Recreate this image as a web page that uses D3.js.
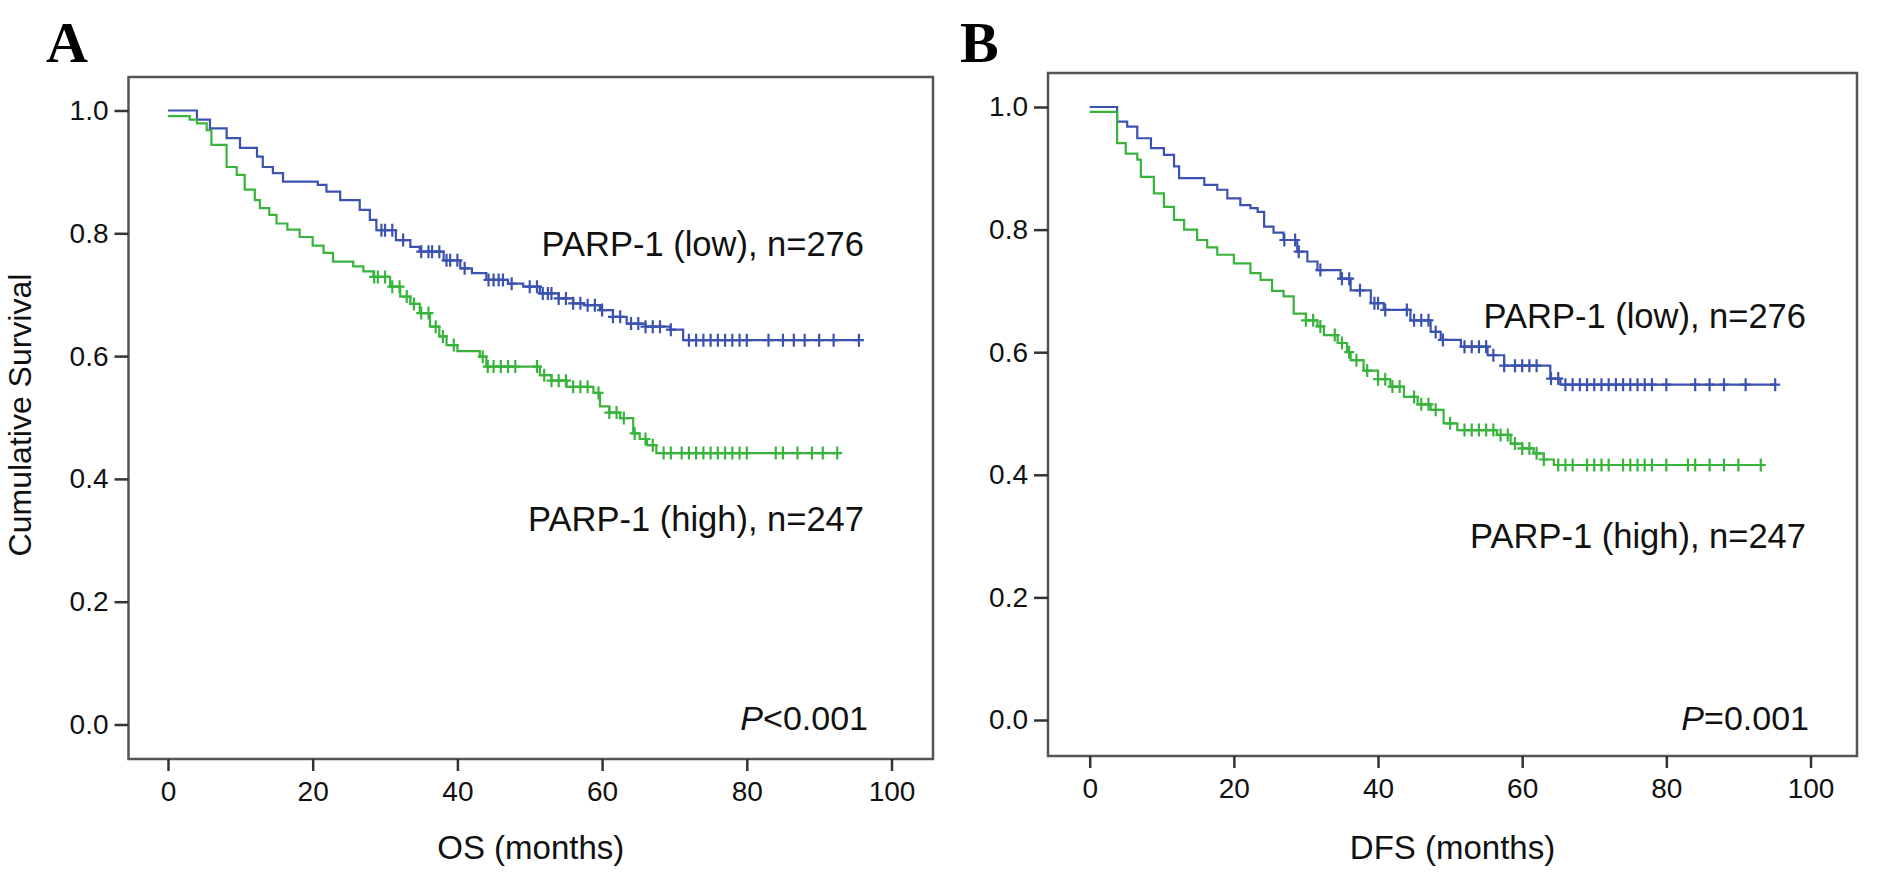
<!DOCTYPE html>
<html>
<head>
<meta charset="utf-8">
<script src="https://cdn.jsdelivr.net/npm/d3@7.9.0/dist/d3.min.js"></script>
<style>
  body { margin: 0; background: #fff; }
  svg { display: block; font-family: "Liberation Sans", Arial, sans-serif; }
</style>
</head>
<body>
<svg id="chart" width="1879" height="874"></svg>
<script>
// step points: [month, survival from that month on]
const osLowSteps = [[0,1.0],[4.0,0.985],[5.8,0.971],[8.1,0.955],[9.95,0.939],[12.3,0.925],[13.1,0.908],[14.5,0.898],[15.9,0.884],[20.7,0.879],[21.9,0.868],[23.8,0.854],[26.5,0.838],[27.9,0.822],[28.8,0.805],[31.5,0.789],[33.5,0.778],[34.8,0.770],[38.1,0.756],[40.4,0.743],[42,0.735],[44.0,0.724],[47,0.718],[49.1,0.713],[51.4,0.702],[54,0.694],[56,0.686],[57.5,0.683],[59.7,0.675],[61.5,0.664],[63.4,0.653],[66,0.648],[69.4,0.643],[71.2,0.626]];
const osLowEnd = 95.5;
const osLowCensor = [29.5,30,31,32.5,35,36,36.5,37.5,38.5,39,40,41,44.3,45,45.7,46.3,47.5,50,51,51.8,52.5,53,54,55,56,57,58,59,60,61.5,62.5,64,65,66,67,68,69.5,72,73,74,75,76,77,78,79,80,83,85,86.5,88,90,92,95.5];

const osHighSteps = [[0,0.991],[3,0.985],[4,0.979],[5.35,0.968],[6,0.944],[8.1,0.908],[9.5,0.895],[10.6,0.871],[12,0.854],[12.7,0.841],[14,0.830],[15,0.816],[16.5,0.806],[18.2,0.794],[20,0.780],[21.5,0.768],[22.8,0.754],[25.6,0.746],[27,0.738],[28.4,0.729],[30.7,0.713],[32.1,0.697],[33.5,0.685],[34.8,0.670],[36.2,0.648],[37.5,0.632],[38.5,0.618],[40,0.608],[43.1,0.599],[44,0.583],[51.4,0.569],[53,0.560],[55.1,0.550],[58.8,0.540],[59.7,0.518],[61,0.508],[62.5,0.499],[64.3,0.474],[65.2,0.465],[66.2,0.455],[67.5,0.442]];
const osHighEnd = 92.5;
const osHighCensor = [28.5,29,30,31,32,33,34,35,36,37,38,39.5,43.5,44.2,45,46,47,48,51,52,53,54,55,56,57,58,59.5,61,62,63,64.5,66,67,68.5,69.5,71,72,73,74,75,76,77,78,79,80,84,85,87,89,90.5,92.5];

const dfsLowSteps = [[0,1.0],[3.8,0.976],[5.2,0.968],[6.6,0.949],[8.5,0.933],[10.3,0.922],[11.7,0.903],[12.4,0.884],[15.9,0.873],[17.7,0.865],[19.1,0.851],[20.9,0.840],[22.3,0.835],[23.3,0.829],[24.2,0.805],[25.5,0.795],[26.9,0.783],[28.8,0.764],[30.2,0.748],[31.6,0.734],[34.8,0.720],[36.2,0.701],[39,0.680],[40.8,0.669],[44.5,0.652],[47.3,0.633],[48.7,0.620],[51.5,0.609],[55.2,0.595],[57.5,0.578],[63.9,0.557],[65.3,0.547]];
const dfsLowEnd = 95.1;
const dfsLowCensor = [27,28.5,29,32,35,36,37.5,39.5,40,41,44,45,46,47,48,49,52,53,54,55,56,57.5,59,60,61,62,64,65,66,67,68,69,70,71,72,73,74,75,76,77,78,80,84,86,88,91,95.1];

const dfsHighSteps = [[0,0.992],[3.8,0.941],[5,0.924],[6.6,0.914],[7.1,0.886],[8.9,0.859],[10.3,0.837],[11.7,0.816],[13.1,0.800],[14.9,0.783],[16.3,0.771],[17.7,0.759],[20,0.745],[22.3,0.729],[23.7,0.718],[25.3,0.700],[26.9,0.691],[28.3,0.663],[30,0.652],[31.6,0.642],[32.5,0.628],[34.4,0.615],[35.7,0.600],[36.2,0.587],[38,0.570],[40,0.556],[41.7,0.544],[43.6,0.527],[45.5,0.515],[47.3,0.506],[49.1,0.484],[51,0.473],[56.5,0.465],[58.4,0.451],[60,0.443],[61.6,0.435],[63,0.425],[64.4,0.416]];
const dfsHighEnd = 93.1;
const dfsHighCensor = [30,31,32,34,35,36,37,38.5,40,41,42,43,45,46,47,48,50,52,53,54,55,56,57,58,59,60,61,62,63,65,66,67,69,70,71,72,74,75,76,77,78,80,83,84,86,88,90,93.1];

const xTicks = [0, 20, 40, 60, 80, 100];
const yTicks = [0, 0.2, 0.4, 0.6, 0.8, 1.0];

const blue = "#3b52b0";
const green = "#38b43c";

const svg = d3.select("#chart");

function survAt(steps, t) {
    let s = steps[0][1];
    for (const [m, v] of steps) { if (m <= t) s = v; }
    return s;
}

function drawPanel(p) {
    const x = d3.scaleLinear().domain([0, 100]).range(p.xRange);
    const y = d3.scaleLinear().domain([0, 1]).range(p.yRange);
    const g = svg.append("g");

    // frame
    g.append("rect")
        .attr("x", p.frame[0]).attr("y", p.frame[1])
        .attr("width", p.frame[2] - p.frame[0]).attr("height", p.frame[3] - p.frame[1])
        .attr("fill", "none").attr("stroke", "#555").attr("stroke-width", 2.5);

    const yAxis = g.append("g")
        .attr("transform", `translate(${p.frame[0]},0)`)
        .call(d3.axisLeft(y).tickValues(yTicks).tickFormat(d3.format(".1f")).tickSize(14).tickPadding(6));
    const xAxis = g.append("g")
        .attr("transform", `translate(0,${p.frame[3]})`)
        .call(d3.axisBottom(x).tickValues(xTicks).tickSize(12).tickPadding(10));
    [yAxis, xAxis].forEach(a => {
        a.select(".domain").remove();
        a.selectAll(".tick line").attr("stroke", "#333").attr("stroke-width", 2.5);
        a.selectAll(".tick text").attr("fill", "#111").style("font-size", "28px")
            .style("font-family", "'Liberation Sans', Arial, sans-serif");
    });

    const line = d3.line().x(d => x(d[0])).y(d => y(d[1])).curve(d3.curveStepAfter);

    p.series.forEach(s => {
        const pts = s.steps.concat([[s.end, s.steps[s.steps.length - 1][1]]]);
        g.append("path").attr("d", line(pts))
            .attr("fill", "none").attr("stroke", s.color).attr("stroke-width", 2.2);
        g.selectAll(null).data(s.censor).join("path")
            .attr("d", t => {
                const cx = x(t), cy = y(survAt(s.steps, t));
                return `M${cx},${cy - 6.5}V${cy + 6.5}M${cx - 5},${cy}H${cx + 5}`;
            })
            .attr("stroke", s.color).attr("stroke-width", 2.2).attr("fill", "none");
    });

    // labels
    p.labels.forEach(l => {
        g.append("text").attr("x", l.x).attr("y", l.y).attr("text-anchor", "end")
            .style("font-size", "34.5px").attr("fill", "#111").text(l.text);
    });
    const pt = g.append("text").attr("x", p.pval.x).attr("y", p.pval.y).attr("text-anchor", "end")
        .style("font-size", "34px").attr("fill", "#111");
    pt.append("tspan").style("font-style", "italic").text("P");
    pt.append("tspan").text(p.pval.text);

    g.append("text").attr("x", (p.frame[0] + p.frame[2]) / 2).attr("y", 859)
        .attr("text-anchor", "middle").style("font-size", "33px").attr("fill", "#111").text(p.xTitle);

    g.append("text").attr("x", p.letter.x).attr("y", p.letter.y)
        .style("font-family", "'Liberation Serif', 'Times New Roman', serif")
        .style("font-weight", "bold").style("font-size", "58px").attr("fill", "#000").text(p.letter.text);
}

drawPanel({
    xRange: [168, 891.5], yRange: [724.5, 110.5], frame: [128.5, 77, 933, 759],
    series: [
        { steps: osLowSteps, end: osLowEnd, censor: osLowCensor, color: blue },
        { steps: osHighSteps, end: osHighEnd, censor: osHighCensor, color: green }
    ],
    labels: [
        { x: 864, y: 256, text: "PARP-1 (low), n=276" },
        { x: 864, y: 531, text: "PARP-1 (high), n=247" }
    ],
    pval: { x: 868, y: 730, text: "<0.001" },
    xTitle: "OS (months)",
    letter: { x: 46, y: 62, text: "A" }
});

drawPanel({
    xRange: [1089.7, 1810.5], yRange: [720, 107], frame: [1048, 73, 1857, 756],
    series: [
        { steps: dfsLowSteps, end: dfsLowEnd, censor: dfsLowCensor, color: blue },
        { steps: dfsHighSteps, end: dfsHighEnd, censor: dfsHighCensor, color: green }
    ],
    labels: [
        { x: 1806, y: 328, text: "PARP-1 (low), n=276" },
        { x: 1806, y: 548, text: "PARP-1 (high), n=247" }
    ],
    pval: { x: 1809, y: 730, text: "=0.001" },
    xTitle: "DFS (months)",
    letter: { x: 960, y: 62, text: "B" }
});

// y-axis title (shared, left side)
svg.append("text")
    .attr("transform", "translate(31,415) rotate(-90)")
    .attr("text-anchor", "middle").style("font-size", "32px").attr("fill", "#111")
    .text("Cumulative Survival");
</script>
</body>
</html>
